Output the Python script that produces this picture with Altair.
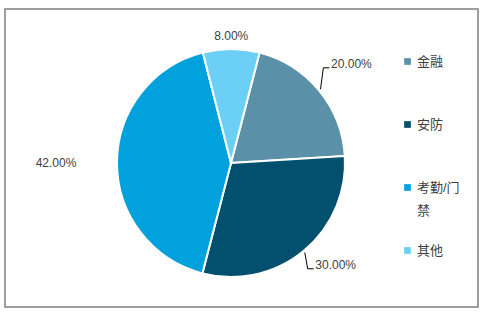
import math
import altair as alt
import pandas as pd

# ---- data ----
categories = ["金融", "安防", "考勤/门禁", "其他"]
shares = [20, 30, 42, 8]
colors = ["#5b91a8", "#02506d", "#00a1dc", "#6ccff6"]

# ---- layout (pixels / degrees) ----
CX, CY = 226, 154          # pie centre inside the bordered view
R = 114                    # pie radius
START_DEG = 14.5           # rotation of the first slice
label_radius = [156, 146, 175, 127]
label_turn = [0, -6.3, 0, 0]
leader = [1, 1, 0, 0]

FONT = "Liberation Sans, Noto Sans CJK SC"
TEXT_COLOR = "#404040"

df = pd.DataFrame({
    "category": categories,
    "share": shares,
    "idx": list(range(len(categories))),
    "label_r": label_radius,
    "turn": label_turn,
    "leader": leader,
})
df["pct"] = df["share"] / 100.0

START = math.radians(START_DEG)
base = alt.Chart(df).transform_joinaggregate(
    total="sum(share)"
).transform_window(
    cum="sum(share)", sort=[alt.SortField("idx")], frame=[None, 0]
).transform_calculate(
    mid=f"{START} + 2*PI*(datum.cum - datum.share/2)/datum.total",
).transform_calculate(
    la="datum.mid + datum.turn*PI/180",
).transform_calculate(
    sx=f"{CX} + {R + 2}*sin(datum.mid)",
    sy=f"{CY} - {R + 2}*cos(datum.mid)",
    lx=f"{CX} + datum.label_r*sin(datum.la)",
    ly=f"{CY} - datum.label_r*cos(datum.la)",
).transform_calculate(
    ex="datum.lx - 28",
    ey="datum.ly + 4",
    fx="datum.lx - 22",
)

# every legend label gets two lines so all rows have similar height;
# the long one wraps onto the second line
NB = "\u00a0"
label_expr = (
    f"datum.label == '考勤/门禁' ? ['考勤/门', '禁'] : [datum.label, '{NB}']"
)

pie = alt.Chart(df).mark_arc(outerRadius=R, stroke="white", strokeWidth=2).encode(
    theta=alt.Theta("share:Q", stack=True,
                    scale=alt.Scale(range=[START, START + 2 * math.pi])),
    order=alt.Order("idx:Q"),
    color=alt.Color(
        "category:N",
        sort=categories,
        scale=alt.Scale(domain=categories, range=colors),
        legend=alt.Legend(
            title=None, orient="none", legendX=396, legendY=46,
            symbolType="square", symbolSize=45, symbolStrokeWidth=0,
            labelFont=FONT, labelFontSize=13, labelColor=TEXT_COLOR,
            labelOffset=3, rowPadding=26, labelBaseline="middle",
            labelExpr=label_expr,
        ),
    ),
    x=alt.value(CX),
    y=alt.value(CY),
)

labels = base.mark_text(font=FONT, fontSize=12, color=TEXT_COLOR).encode(
    x=alt.X("lx:Q", scale=None, axis=None),
    y=alt.Y("ly:Q", scale=None, axis=None),
    text=alt.Text("pct:Q", format=".2%"),
)

lines = base.transform_filter("datum.leader == 1")
seg1 = lines.mark_rule(color="#000000", strokeWidth=1).encode(
    x=alt.X("sx:Q", scale=None, axis=None),
    y=alt.Y("sy:Q", scale=None, axis=None),
    x2="ex:Q",
    y2="ey:Q",
)
seg2 = lines.mark_rule(color="#000000", strokeWidth=1).encode(
    x=alt.X("ex:Q", scale=None, axis=None),
    y=alt.Y("ey:Q", scale=None, axis=None),
    x2="fx:Q",
    y2="ey:Q",
)

chart = alt.layer(pie, seg1, seg2, labels).properties(
    width=473,
    height=298,
    autosize=alt.AutoSizeParams(type="none"),
    padding={"left": 5, "top": 9, "right": 3, "bottom": 5},
    background="white",
).configure(
    style={"guide-label": {"lineHeight": 23}},
    view=alt.ViewConfig(stroke="#7f7f7f", strokeWidth=1.5),
)

chart.save("out.html", embed_options={"renderer": "svg", "actions": False})
